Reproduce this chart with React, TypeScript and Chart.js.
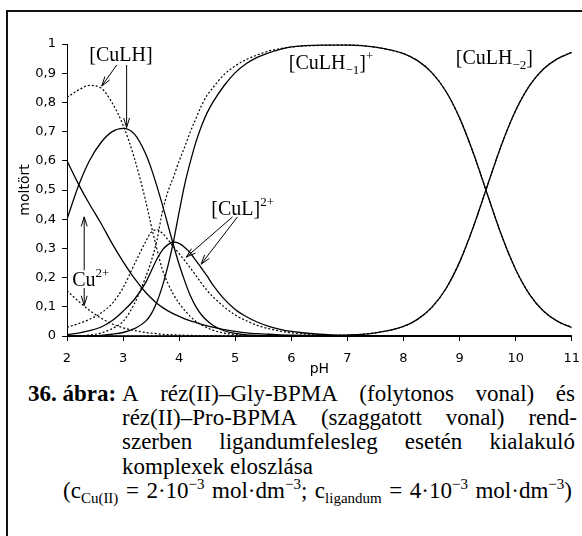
import React, { useEffect, useRef } from 'react';
import { Chart, registerables } from 'chart.js';

Chart.register(...registerables);

// pH grid shared by every series
const PH = [2.0, 2.2, 2.4, 2.6, 2.8, 3.0, 3.2, 3.4, 3.5, 3.6, 3.7, 3.8, 3.9, 4.0, 4.1, 4.2, 4.3, 4.4, 4.5, 4.6, 4.8, 5.0, 5.2, 5.4, 5.6, 5.8, 6.0, 6.5, 7.0, 7.5, 8.0, 8.25, 8.5, 8.75, 9.0, 9.25, 9.5, 9.75, 10.0, 10.25, 10.5, 10.75, 11.0];

// Cu(II)–Gly-BPMA (solid lines)
const GLY_CU = [0.600, 0.522, 0.452, 0.388, 0.318, 0.255, 0.198, 0.150, 0.130, 0.112, 0.098, 0.086, 0.076, 0.067, 0.059, 0.052, 0.046, 0.040, 0.035, 0.030, 0.022, 0.016, 0.011, 0.008, 0.006, 0.004, 0.003, 0.001, 0, 0, 0, 0, 0, 0, 0, 0, 0, 0, 0, 0, 0, 0, 0];
const GLY_CULH = [0.400, 0.512, 0.600, 0.661, 0.699, 0.711, 0.692, 0.625, 0.575, 0.515, 0.450, 0.380, 0.310, 0.245, 0.188, 0.138, 0.100, 0.072, 0.052, 0.037, 0.018, 0.009, 0.004, 0.002, 0.001, 0, 0, 0, 0, 0, 0, 0, 0, 0, 0, 0, 0, 0, 0, 0, 0, 0, 0];
const GLY_CUL = [0.005, 0.010, 0.018, 0.030, 0.052, 0.085, 0.125, 0.182, 0.222, 0.262, 0.294, 0.313, 0.322, 0.317, 0.303, 0.284, 0.258, 0.232, 0.205, 0.175, 0.127, 0.091, 0.066, 0.047, 0.033, 0.023, 0.016, 0.006, 0.002, 0.001, 0, 0, 0, 0, 0, 0, 0, 0, 0, 0, 0, 0, 0];
const GLY_CULHM1 = [0, 0, 0.001, 0.002, 0.006, 0.012, 0.025, 0.050, 0.075, 0.115, 0.170, 0.240, 0.325, 0.425, 0.520, 0.597, 0.665, 0.720, 0.765, 0.800, 0.857, 0.902, 0.933, 0.955, 0.970, 0.982, 0.990, 0.996, 0.996, 0.989, 0.967, 0.943, 0.903, 0.840, 0.747, 0.624, 0.483, 0.344, 0.228, 0.142, 0.085, 0.050, 0.029];
const GLY_CULHM2 = [0, 0, 0, 0, 0, 0, 0, 0, 0, 0, 0, 0, 0, 0, 0, 0, 0, 0, 0, 0, 0, 0, 0, 0, 0, 0, 0, 0.001, 0.003, 0.011, 0.033, 0.057, 0.097, 0.160, 0.253, 0.376, 0.517, 0.656, 0.772, 0.858, 0.915, 0.950, 0.971];

// Cu(II)–Pro-BPMA (dotted lines)
const PRO_CU = [0.155, 0.120, 0.088, 0.062, 0.042, 0.028, 0.019, 0.012, 0.010, 0.008, 0.006, 0.005, 0.004, 0.003, 0.0025, 0.002, 0.0015, 0.001, 0.001, 0.0005, 0, 0, 0, 0, 0, 0, 0, 0, 0, 0, 0, 0, 0, 0, 0, 0, 0, 0, 0, 0, 0, 0, 0];
const PRO_CULH = [0.817, 0.842, 0.858, 0.850, 0.800, 0.722, 0.610, 0.465, 0.380, 0.300, 0.228, 0.180, 0.142, 0.112, 0.088, 0.067, 0.050, 0.038, 0.028, 0.020, 0.010, 0.005, 0.002, 0.001, 0, 0, 0, 0, 0, 0, 0, 0, 0, 0, 0, 0, 0, 0, 0, 0, 0, 0, 0];
const PRO_CUL = [0.030, 0.042, 0.057, 0.078, 0.110, 0.165, 0.245, 0.322, 0.355, 0.364, 0.352, 0.330, 0.305, 0.282, 0.258, 0.233, 0.207, 0.180, 0.155, 0.135, 0.100, 0.072, 0.052, 0.036, 0.025, 0.017, 0.011, 0.004, 0.001, 0, 0, 0, 0, 0, 0, 0, 0, 0, 0, 0, 0, 0, 0];
const PRO_CULHM1 = [0, 0.001, 0.003, 0.010, 0.025, 0.050, 0.110, 0.200, 0.255, 0.325, 0.425, 0.495, 0.545, 0.600, 0.648, 0.700, 0.745, 0.790, 0.825, 0.850, 0.895, 0.925, 0.947, 0.963, 0.976, 0.984, 0.990, 0.995, 0.997, 0.989, 0.967, 0.943, 0.903, 0.840, 0.747, 0.624, 0.483, 0.344, 0.228, 0.142, 0.085, 0.050, 0.029];
const PRO_CULHM2 = [0, 0, 0, 0, 0, 0, 0, 0, 0, 0, 0, 0, 0, 0, 0, 0, 0, 0, 0, 0, 0, 0, 0, 0, 0, 0, 0, 0.001, 0.003, 0.011, 0.033, 0.057, 0.097, 0.160, 0.253, 0.376, 0.517, 0.656, 0.772, 0.858, 0.915, 0.950, 0.971];

// Axis settings
const X_MIN = 2;
const X_MAX = 11;
const Y_MIN = 0;
const Y_MAX = 1;

// Annotation labels (data coordinates) and arrows [x1, y1, x2, y2]
type Part = { t: string; k: 'n' | 'sub' | 'sup' };
const LABELS: { x: number; y: number; parts: Part[] }[] = [
  { x: 2.397, y: 0.942, parts: [{ t: '[CuLH]', k: 'n' }] },
  { x: 5.956, y: 0.916, parts: [{ t: '[CuLH', k: 'n' }, { t: '−1', k: 'sub' }, { t: ']', k: 'n' }, { t: '+', k: 'sup' }] },
  { x: 8.933, y: 0.933, parts: [{ t: '[CuLH', k: 'n' }, { t: '−2', k: 'sub' }, { t: ']', k: 'n' }] },
  { x: 4.574, y: 0.414, parts: [{ t: '[CuL]', k: 'n' }, { t: '2+', k: 'sup' }] },
  { x: 2.094, y: 0.172, parts: [{ t: 'Cu', k: 'n' }, { t: '2+', k: 'sup' }] },
];
const ARROWS: number[][] = [
  [2.886, 0.928, 2.62, 0.856],
  [3.063, 0.928, 3.063, 0.714],
  [4.952, 0.408, 4.126, 0.27],
  [5.04, 0.408, 4.392, 0.246],
  [2.307, 0.225, 2.307, 0.408],
  [2.307, 0.164, 2.307, 0.105],
];

const annotationPlugin = {
  id: 'annot',
  afterDraw(chart: any) {
    const { ctx } = chart;
    const xs = chart.scales.x;
    const ys = chart.scales.y;
    ctx.save();
    ctx.strokeStyle = '#000';
    ctx.fillStyle = '#000';
    ctx.lineWidth = 1;
    for (const a of ARROWS) {
      const x1 = xs.getPixelForValue(a[0]);
      const y1 = ys.getPixelForValue(a[1]);
      const x2 = xs.getPixelForValue(a[2]);
      const y2 = ys.getPixelForValue(a[3]);
      ctx.beginPath();
      ctx.moveTo(x1, y1);
      ctx.lineTo(x2, y2);
      ctx.stroke();
      const ang = Math.atan2(y2 - y1, x2 - x1);
      const L = 10;
      const w = 0.3;
      ctx.beginPath();
      ctx.moveTo(x2 - L * Math.cos(ang - w), y2 - L * Math.sin(ang - w));
      ctx.lineTo(x2, y2);
      ctx.lineTo(x2 - L * Math.cos(ang + w), y2 - L * Math.sin(ang + w));
      ctx.stroke();
    }
    ctx.textAlign = 'left';
    ctx.textBaseline = 'alphabetic';
    for (const lab of LABELS) {
      let px = xs.getPixelForValue(lab.x);
      const py = ys.getPixelForValue(lab.y);
      for (const p of lab.parts) {
        const size = p.k === 'n' ? 20 : 13;
        const dy = p.k === 'sub' ? 5 : p.k === 'sup' ? -9 : 0;
        ctx.font = `${size}px "Liberation Serif"`;
        ctx.fillText(p.t, px, py + dy);
        px += ctx.measureText(p.t).width;
      }
    }
    ctx.restore();
  },
};

function series(label: string, values: number[], dotted: boolean) {
  return {
    label,
    data: PH.map((x, i) => ({ x, y: values[i] })),
    borderColor: '#000',
    borderWidth: dotted ? 1.2 : 1.3,
    borderDash: dotted ? [2, 2] : [],
    pointRadius: 0,
    fill: false,
    cubicInterpolationMode: 'monotone' as const,
  };
}

const AXIS_FONT = { family: 'DejaVu Sans', size: 13 };

export default function App() {
  const ref = useRef<HTMLCanvasElement>(null);
  useEffect(() => {
    const chart = new Chart(ref.current as HTMLCanvasElement, {
      type: 'line',
      data: {
        datasets: [
          series('Cu2+ Gly', GLY_CU, false),
          series('CuLH Gly', GLY_CULH, false),
          series('CuL Gly', GLY_CUL, false),
          series('CuLH-1 Gly', GLY_CULHM1, false),
          series('CuLH-2 Gly', GLY_CULHM2, false),
          series('Cu2+ Pro', PRO_CU, true),
          series('CuLH Pro', PRO_CULH, true),
          series('CuL Pro', PRO_CUL, true),
          series('CuLH-1 Pro', PRO_CULHM1, true),
          series('CuLH-2 Pro', PRO_CULHM2, true),
        ] as any,
      },
      options: {
        responsive: false,
        animation: false,
        layout: { padding: { left: 0, right: 15.3, top: 44, bottom: 0 } },
        plugins: { legend: { display: false }, tooltip: { enabled: false } },
        scales: {
          x: {
            type: 'linear',
            min: X_MIN,
            max: X_MAX,
            afterFit: (s: any) => { s.height = 44; },
            ticks: { stepSize: 1, padding: 10, color: '#000', font: AXIS_FONT, maxRotation: 0, autoSkip: false },
            grid: { drawOnChartArea: false, drawTicks: true, tickLength: 5, color: '#000', lineWidth: 1 },
            border: { display: true, color: '#000', width: 1 },
            title: { display: true, text: 'pH', color: '#000', font: { family: 'DejaVu Sans', size: 14 }, padding: { top: 0, bottom: 2.6 } },
          },
          y: {
            type: 'linear',
            min: Y_MIN,
            max: Y_MAX,
            afterFit: (s: any) => { s.width = 67; },
            ticks: {
              stepSize: 0.1,
              padding: 6,
              color: '#000',
              font: AXIS_FONT,
              callback: (v: any) => {
                const n = Number(v);
                if (Math.abs(n) < 1e-9) return '0';
                if (Math.abs(n - 1) < 1e-9) return '1';
                return n.toFixed(1).replace('.', ',');
              },
            },
            grid: { drawOnChartArea: false, drawTicks: true, tickLength: 5, color: '#000', lineWidth: 1 },
            border: { display: true, color: '#000', width: 1 },
            title: { display: true, text: 'moltört', color: '#000', font: { family: 'DejaVu Sans', size: 14 }, padding: { top: 17, bottom: 0 } },
          },
        },
      } as any,
      plugins: [annotationPlugin],
    });
    return () => chart.destroy();
  }, []);

  const serif = '"Liberation Serif", "Times New Roman", serif';
  const lineBase: React.CSSProperties = {
    position: 'absolute',
    height: 24,
    lineHeight: '24px',
    fontSize: 23,
    fontFamily: serif,
    color: '#000',
    whiteSpace: 'nowrap',
  };
  const justified: React.CSSProperties = { ...lineBase, display: 'flex', justifyContent: 'space-between', alignItems: 'baseline' };
  const sub: React.CSSProperties = { fontSize: 15, position: 'relative', top: 5 };
  const sup: React.CSSProperties = { fontSize: 15, position: 'relative', top: -9 };

  return (
    <div style={{ position: 'fixed', left: 0, top: 0, width: 582, height: 536, overflow: 'hidden', background: '#fff' }}>
      <div style={{ position: 'absolute', left: 6, top: 10, width: 700, height: 700, border: '2px solid #111', boxSizing: 'border-box' }} />
      <canvas ref={ref} width={590} height={380} style={{ position: 'absolute', left: 0, top: 0 }} />
      <div style={{ ...lineBase, left: 28, top: 381.5, fontWeight: 'bold' }}>36. ábra:</div>
      <div style={{ ...justified, left: 122, width: 453, top: 381.5 }}>
        <span>A</span><span>réz(II)–Gly-BPMA</span><span>(folytonos</span><span>vonal)</span><span>és</span>
      </div>
      <div style={{ ...justified, left: 122, width: 455, top: 405.8 }}>
        <span>réz(II)–Pro-BPMA</span><span>(szaggatott</span><span>vonal)</span><span>rend-</span>
      </div>
      <div style={{ ...justified, left: 122, width: 453, top: 430 }}>
        <span>szerben</span><span>ligandumfelesleg</span><span>esetén</span><span>kialakuló</span>
      </div>
      <div style={{ ...lineBase, left: 122, top: 454.5 }}>komplexek eloszlása</div>
      <div style={{ ...justified, left: 63, width: 509, top: 478.5 }}>
        <span>(c<span style={sub}>Cu(II)</span></span>
        <span>=</span>
        <span>2·10<span style={sup}>−3</span></span>
        <span>mol·dm<span style={sup}>−3</span>;</span>
        <span>c<span style={sub}>ligandum</span></span>
        <span>=</span>
        <span>4·10<span style={sup}>−3</span></span>
        <span>mol·dm<span style={sup}>−3</span>)</span>
      </div>
    </div>
  );
}
